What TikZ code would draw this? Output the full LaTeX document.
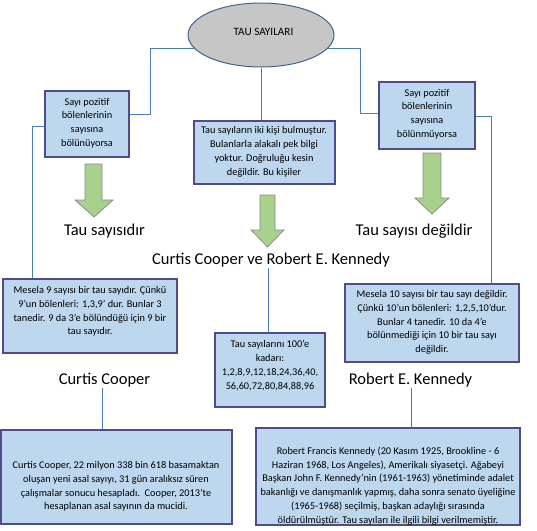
\documentclass[tikz,border=0pt]{standalone}
\usepackage{fontspec}
\setmainfont{Carlito}
\usetikzlibrary{shapes.geometric}
\definecolor{boxfill}{HTML}{BDD7EE}
\definecolor{boxline}{HTML}{4F4B8C}
\definecolor{connc}{HTML}{4A7EBB}
\definecolor{ellfill}{HTML}{C6C6C6}
\definecolor{ellline}{HTML}{41648F}
\definecolor{arrfill}{HTML}{A9D18E}
\definecolor{arrline}{HTML}{8A8A8A}
\begin{document}
\begin{tikzpicture}[x=1pt,y=-1pt,
  box/.style={draw=boxline, line width=1.2pt, fill=boxfill, inner sep=0pt, rectangle},
  small/.style={font=\fontsize{10.3}{13.8}\selectfont, align=center, inner sep=0pt},
  big/.style={font=\fontsize{16.5}{20}\selectfont, inner sep=0pt, anchor=base},
  conn/.style={draw=connc, line width=0.9pt},
  garrow/.style={fill=arrfill, draw=arrline, line width=0.8pt, line join=miter}]
\useasboundingbox (0,0) rectangle (537,530);
\fill[white] (0,0) rectangle (537,530);

% ellipse
\node[ellipse, draw=ellline, line width=1pt, fill=ellfill, minimum width=146pt, minimum height=64pt, inner sep=0pt] (ell) at (261,35) {};
\node[font=\fontsize{11.2}{13}\selectfont, inner sep=0pt] (ellt) at (263.5,31.5) {TAU SAYILARI};

% boxes
\node[box, minimum width=84pt, minimum height=66pt] (lbox) at (87,124) {};
\node[box, minimum width=141pt, minimum height=63pt] (mbox) at (264.5,152.5) {};
\node[box, minimum width=96pt, minimum height=67pt] (rbox) at (427,115.5) {};
\node[box, minimum width=174pt, minimum height=74pt] (lmes) at (90,316) {};
\node[box, minimum width=174pt, minimum height=78pt] (rmes) at (432,323) {};
\node[box, minimum width=110pt, minimum height=74pt] (mid2) at (270,370) {};
\node[box, minimum width=231pt, minimum height=94pt] (blbox) at (116.5,477) {};
\node[box, minimum width=264pt, minimum height=97pt] (brbox) at (388,476.5) {};

% box texts
\node[small] (lboxt) at (87,123) {Sayı pozitif\\bölenlerinin\\sayısına\\bölünüyorsa};
\node[small] (rboxt) at (427,114) {Sayı pozitif\\bölenlerinin\\sayısına\\bölünmüyorsa};
\node[small] (mboxt) at (264,152) {Tau sayıların iki kişi bulmuştur.\\Bulanlarla alakalı pek bilgi\\yoktur. Doğruluğu kesin\\değildir. Bu kişiler};
\node[small] (lmest) at (90,311.5) {Mesela 9 sayısı bir tau sayıdır. Çünkü\\9’un bölenleri: 1,3,9’ dur. Bunlar 3\\tanedir. 9 da 3’e bölündüğü için 9 bir\\tau sayıdır.};
\node[small] (rmest) at (432,322.5) {Mesela 10 sayısı bir tau sayı değildir.\\Çünkü 10’un bölenleri: 1,2,5,10’dur.\\Bunlar 4 tanedir. 10 da 4’e\\bölünmediği için 10 bir tau sayı\\değildir.};
\node[small] (mid2t) at (270,365.5) {Tau sayılarını 100’e\\kadarı:\\1,2,8,9,12,18,24,36,40,\\56,60,72,80,84,88,96};
\node[small] (blboxt) at (116,486.5) {Curtis Cooper, 22 milyon 338 bin 618 basamaktan\\oluşan yeni asal sayıyı, 31 gün aralıksız süren\\çalışmalar sonucu hesapladı.\ \ Cooper, 2013'te\\hesaplanan asal sayının da mucidi.};
\node[small] (brboxt) at (388,486) {Robert Francis Kennedy (20 Kasım 1925, Brookline - 6\\Haziran 1968, Los Angeles), Amerikalı siyasetçi. Ağabeyi\\Başkan John F. Kennedy'nin (1961-1963) yönetiminde adalet\\bakanlığı ve danışmanlık yapmış, daha sonra senato üyeliğine\\(1965-1968) seçilmiş, başkan adaylığı sırasında\\öldürülmüştür. Tau sayıları ile ilgili bilgi verilmemiştir.};

% big labels
\node[big] (tsd) at (104.5,235) {Tau sayısıdır};
\node[big] (tsdd) at (414,235) {Tau sayısı değildir};
\node[big] (cvr) at (271,264) {Curtis Cooper ve Robert E. Kennedy};
\node[big] (cc) at (104.5,384) {Curtis Cooper};
\node[big] (rek) at (410.5,384) {Robert E. Kennedy};

% junction coordinates
\coordinate (j1) at (150,114);
\coordinate (j2) at (360,113);
\coordinate (j3) at (32,126);
\coordinate (j4) at (491,116);
\coordinate (j5) at (268,268);
\coordinate (j6) at (102,388);
\coordinate (j7) at (411,388);

% connectors
\draw[conn] (ell.191) -| (j1) -- (lbox.east |- j1);
\draw[conn] (ell.349) -| (j2) -- (rbox.west |- j2);
\draw[conn] (ell.south) -- (ell.south |- mbox.north);
\draw[conn] (lbox.west |- j3) -| (j3 |- lmes.north);
\draw[conn] (rbox.east |- j4) -| (j4 |- rmes.north);
\draw[conn] (j5) -- (j5 |- mid2.north);
\draw[conn] (j6) -- (j6 |- blbox.north);
\draw[conn] (j7) -- (j7 |- brbox.north);

% block arrows
\draw[garrow] (85,164) -- (102,164) -- (102,200) -- (113,200) -- (94,217) -- (75,200) -- (85,200) -- cycle;
\draw[garrow] (260,195) -- (275,195) -- (275,230) -- (284,230) -- (267.5,247) -- (251,230) -- (260,230) -- cycle;
\draw[garrow] (423,153) -- (441,153) -- (441,198) -- (449,198) -- (432,214) -- (415,198) -- (423,198) -- cycle;
\end{tikzpicture}
\end{document}
